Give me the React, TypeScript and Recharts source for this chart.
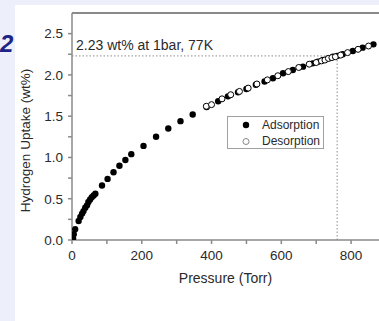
import React from 'react';
import { ScatterChart, Scatter, XAxis, YAxis, ReferenceLine, Legend } from 'recharts';

const adsorptionPressure = [3, 5, 9, 19, 24, 29, 33, 38, 43, 47, 52, 57, 62, 67, 86, 102, 119, 136, 153, 170, 205, 241, 276, 311, 346, 386, 419, 447, 476, 500, 527, 552, 576, 605, 633, 662, 690, 705, 720, 735, 748, 760, 776, 805, 833, 864];
const adsorptionUptake = [0.02, 0.07, 0.13, 0.23, 0.28, 0.32, 0.35, 0.39, 0.42, 0.46, 0.49, 0.52, 0.54, 0.56, 0.66, 0.74, 0.82, 0.9, 0.97, 1.04, 1.14, 1.25, 1.35, 1.44, 1.52, 1.61, 1.68, 1.74, 1.79, 1.83, 1.88, 1.92, 1.96, 2.02, 2.06, 2.1, 2.14, 2.16, 2.18, 2.2, 2.22, 2.23, 2.25, 2.29, 2.33, 2.37];
const desorptionPressure = [385, 400, 430, 455, 480, 505, 530, 560, 590, 620, 650, 680, 700, 715, 725, 735, 745, 755, 770, 790, 820, 850];
const desorptionUptake = [1.62, 1.64, 1.71, 1.76, 1.8, 1.84, 1.89, 1.94, 1.99, 2.04, 2.09, 2.13, 2.15, 2.17, 2.18, 2.2, 2.21, 2.22, 2.24, 2.27, 2.31, 2.35];
const xTicks = [0, 100, 200, 300, 400, 500, 600, 700, 800];
const yTicks = [0, 0.25, 0.5, 0.75, 1, 1.25, 1.5, 1.75, 2, 2.25, 2.5];
const markPressure = 760;
const markUptake = 2.23;
const annotation = '2.23 wt% at 1bar, 77K';
const xLabel = 'Pressure (Torr)';
const yLabel = 'Hydrogen Uptake (wt%)';
const seriesNames = ['Adsorption', 'Desorption'];
const sideMark = '2';

const adsorption = adsorptionPressure.map((p, i) => ({ p, w: adsorptionUptake[i] }));
const desorption = desorptionPressure.map((p, i) => ({ p, w: desorptionUptake[i] }));

const FONT = '"Liberation Sans", Arial, Helvetica, sans-serif';
const AXIS = '#8a8a8a';
const TEXT = '#2a2a2a';

const FilledDot = (props: any) => <circle cx={props.cx} cy={props.cy} r={3.2} fill="#000" />;
const OpenDot = (props: any) => <circle cx={props.cx} cy={props.cy} r={3} fill="#fff" stroke="#000" strokeWidth={1} />;

const LegendBox = () => (
  <div style={{ width: 95, height: 31, border: '1px solid #a0a0a0', background: '#fff', fontFamily: FONT, fontSize: 12, color: TEXT, position: 'relative' }}>
    <svg width={30} height={31} style={{ position: 'absolute', left: 0, top: 0 }}>
      <circle cx={18} cy={8} r={3.2} fill="#000" />
      <circle cx={18} cy={24.5} r={3} fill="#fff" stroke="#888" strokeWidth={1} />
    </svg>
    <div style={{ position: 'absolute', left: 34, top: 1, lineHeight: '14px' }}>{seriesNames[0]}</div>
    <div style={{ position: 'absolute', left: 34, top: 17, lineHeight: '14px' }}>{seriesNames[1]}</div>
  </div>
);

export default function App() {
  return (
    <div style={{ position: 'absolute', left: 0, top: 0, width: 379, height: 321, background: '#edf0fa', overflow: 'hidden' }}>
      <div style={{ position: 'absolute', left: 15, top: 5, width: 364, height: 316, background: '#fff' }} />
      <div style={{ position: 'absolute', left: 0, top: 30, fontFamily: FONT, fontSize: 24, fontWeight: 'bold', fontStyle: 'italic', color: '#1c2585', lineHeight: '28px' }}>{sideMark}</div>
      <div style={{ position: 'absolute', left: 0, top: 0 }}>
        <ScatterChart width={379} height={321} margin={{ top: 13, right: 0, bottom: 0, left: 0 }}>
          <XAxis
            type="number"
            dataKey="p"
            domain={[0, 880]}
            ticks={xTicks}
            interval={0}
            tickFormatter={(v: number) => (v % 200 === 0 ? String(v) : '')}
            tick={{ fontSize: 13.5, fill: TEXT, fontFamily: FONT }}
            tickSize={4}
            tickMargin={6}
            stroke={AXIS}
            strokeWidth={1.5}
            height={48}
            allowDataOverflow
            label={{ value: xLabel, position: 'insideBottom', offset: 5, fontSize: 14, fill: TEXT, fontFamily: FONT }}
          />
          <YAxis
            type="number"
            dataKey="w"
            domain={[0, 2.75]}
            ticks={yTicks}
            interval={0}
            tickFormatter={(v: number) => (Math.abs(v * 2 - Math.round(v * 2)) < 1e-6 ? v.toFixed(1) : '')}
            tick={{ fontSize: 13.5, fill: TEXT, fontFamily: FONT }}
            tickSize={4}
            tickMargin={5}
            stroke={AXIS}
            strokeWidth={1.5}
            width={72}
            allowDataOverflow
            label={{
              content: (props: any) => {
                const vb = props.viewBox;
                const cx = vb.x + 30;
                const cy = vb.y + vb.height / 2 + 14;
                return (
                  <text x={cx} y={cy} transform={`rotate(-90 ${cx} ${cy})`} textAnchor="middle" fontSize={13.5} fill={TEXT} fontFamily={FONT}>
                    {yLabel}
                  </text>
                );
              },
            }}
          />
          <ReferenceLine y={2.75} stroke={AXIS} strokeWidth={2} />
          <ReferenceLine
            segment={[{ x: 0, y: markUptake }, { x: markPressure, y: markUptake }]}
            stroke="#8c8c8c"
            strokeDasharray="1.5 2"
            strokeWidth={1}
            label={{
              content: (props: any) => {
                const vb = props.viewBox;
                return (
                  <text x={vb.x + 4} y={vb.y - 6} fontSize={14} fill={TEXT} fontFamily={FONT}>
                    {annotation}
                  </text>
                );
              },
            }}
          />
          <ReferenceLine
            segment={[{ x: markPressure, y: 0 }, { x: markPressure, y: markUptake }]}
            stroke="#8c8c8c"
            strokeDasharray="1.5 2"
            strokeWidth={1}
          />
          <Scatter name={seriesNames[0]} data={adsorption} shape={FilledDot} isAnimationActive={false} />
          <Scatter name={seriesNames[1]} data={desorption} shape={OpenDot} isAnimationActive={false} />
          <Legend
            content={() => <LegendBox />}
            wrapperStyle={{ position: 'absolute', left: 227, top: 116, width: 97, height: 33, bottom: 'auto', right: 'auto' }}
          />
        </ScatterChart>
      </div>
    </div>
  );
}
